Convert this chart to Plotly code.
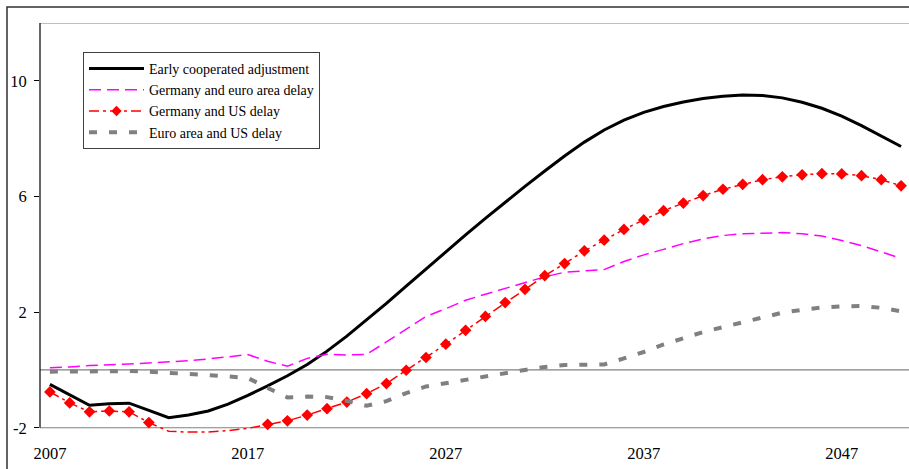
import plotly.graph_objects as go

years = list(range(2007, 2051))

early = [-0.50, -0.86, -1.22, -1.17, -1.15, -1.40, -1.65, -1.56, -1.42, -1.18,
         -0.88, -0.55, -0.20, 0.19, 0.65, 1.17, 1.72, 2.30, 2.90, 3.50,
         4.09, 4.67, 5.24, 5.80, 6.35, 6.88, 7.40, 7.88, 8.30, 8.64,
         8.91, 9.11, 9.27, 9.39, 9.47, 9.51, 9.49, 9.41, 9.26, 9.05,
         8.78, 8.45, 8.10, 7.73]

ger_euro = [0.08, 0.10, 0.15, 0.19, 0.21, 0.24, 0.27, 0.32, 0.38, 0.45,
            0.53, 0.30, 0.13, 0.40, 0.54, 0.52, 0.54, 0.97, 1.42, 1.85,
            2.12, 2.41, 2.62, 2.82, 3.03, 3.22, 3.38, 3.42, 3.47, 3.75,
            3.98, 4.17, 4.37, 4.53, 4.65, 4.71, 4.74, 4.75, 4.71, 4.63,
            4.48, 4.30, 4.08, 3.86]

ger_us = [-0.76, -1.14, -1.45, -1.42, -1.45, -1.82, -2.12, -2.15, -2.15, -2.10,
          -2.02, -1.88, -1.76, -1.56, -1.34, -1.11, -0.82, -0.47, -0.01, 0.43,
          0.89, 1.37, 1.85, 2.33, 2.79, 3.26, 3.68, 4.12, 4.49, 4.86,
          5.19, 5.51, 5.77, 6.03, 6.25, 6.42, 6.58, 6.68, 6.75, 6.79,
          6.78, 6.72, 6.58, 6.37]

euro_us = [-0.06, -0.05, -0.05, -0.04, -0.04, -0.06, -0.09, -0.13, -0.18, -0.22,
           -0.28, -0.62, -0.95, -0.92, -0.94, -1.07, -1.24, -1.08, -0.80, -0.57,
           -0.45, -0.33, -0.22, -0.09, 0.00, 0.10, 0.17, 0.18, 0.19, 0.40,
           0.62, 0.88, 1.10, 1.31, 1.48, 1.65, 1.82, 1.98, 2.08, 2.16,
           2.20, 2.21, 2.15, 2.03]

x_ticks = [2007, 2017, 2027, 2037, 2047]
y_ticks = [-2, 2, 6, 10]
y_tick_labels = ["-2", "2", "6", "10"]
y_min, y_max = -2, 12

FONT = "Liberation Serif, Times New Roman, serif"

fig = go.Figure()

fig.add_trace(go.Scatter(
    x=years, y=early, mode="lines", name="Early cooperated adjustment",
    line=dict(color="black", width=3)))
fig.add_trace(go.Scatter(
    x=years, y=ger_euro, mode="lines", name="Germany and euro area delay",
    line=dict(color="#FF00FF", width=1.5, dash="12px,6px")))
fig.add_trace(go.Scatter(
    x=years, y=ger_us, mode="lines+markers", name="Germany and US delay",
    line=dict(color="#FF0000", width=1.5, dash="10px,4px,3px,4px"),
    marker=dict(symbol="diamond", color="#FF0000", opacity=1,
                line=dict(width=0),
                size=[0 if v < y_min else 9 for v in ger_us])))
fig.add_trace(go.Scatter(
    x=years, y=euro_us, mode="lines", name="Euro area and US delay",
    line=dict(color="#808080", width=4, dash="8px,12px")))

shapes = []
for yv in [0, y_min, y_max]:
    shapes.append(dict(type="line", xref="paper", yref="y", x0=0, x1=1,
                       y0=yv, y1=yv, line=dict(color="#808080", width=1.2), layer="below"))
shapes.append(dict(type="line", xref="paper", yref="y", x0=0, x1=0,
                   y0=y_min, y1=y_max, line=dict(color="black", width=1.2)))
# outer chart frame
shapes.append(dict(type="rect", xref="paper", yref="paper",
                   x0=(7 - 40) / 869, x1=1.2, y0=-0.3, y1=1 + (23 - 7) / 412,
                   line=dict(color="#303030", width=1.5), layer="below"))

fig.update_layout(
    width=909, height=469,
    margin=dict(l=40, r=0, t=23, b=34),
    paper_bgcolor="white", plot_bgcolor="white",
    font=dict(family=FONT, color="black"),
    showlegend=True,
    legend=dict(x=(83 - 40) / 869, y=1 - (52 - 23) / 412, xanchor="left", yanchor="top",
                bgcolor="white", bordercolor="#404040", borderwidth=1,
                font=dict(family=FONT, size=14, color="black"),
                itemwidth=55),
    shapes=shapes,
    xaxis=dict(range=[2006.5, 2050.4], tickvals=x_ticks, ticktext=[str(v) for v in x_ticks],
               showgrid=False, zeroline=False, showline=False, ticks="",
               tickfont=dict(family=FONT, size=16.5, color="black"),
               ticklabelstandoff=6),
    yaxis=dict(range=[-2.25, 12], tickvals=y_ticks, ticktext=y_tick_labels,
               showgrid=False, zeroline=False,
               showline=False, ticks="outside", ticklen=5, tickcolor="black", tickwidth=1,
               tickfont=dict(family=FONT, size=16.5, color="black"),
               ticklabelstandoff=4),
)

fig.write_html("out.html", config={"displayModeBar": False},
               post_script="document.body.style.margin='0';document.body.style.overflow='hidden';")
